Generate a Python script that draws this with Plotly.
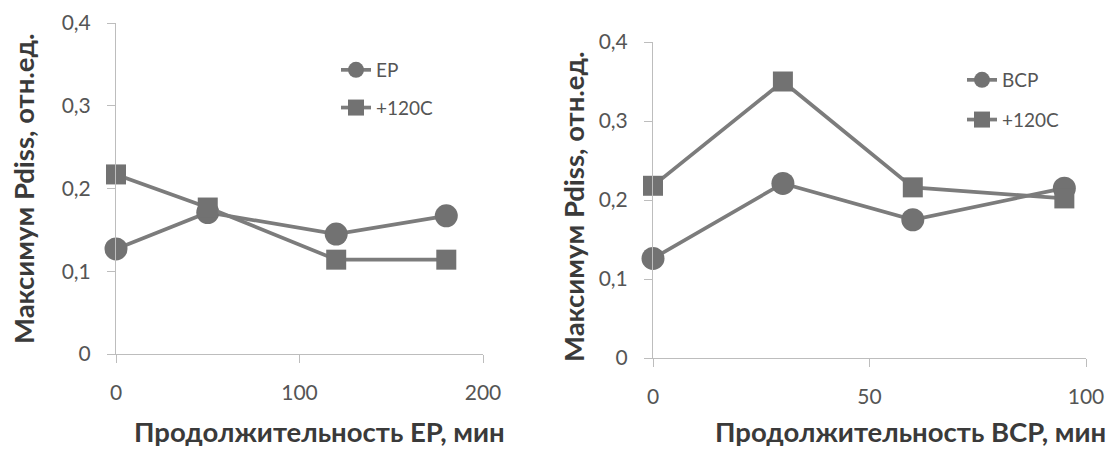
import plotly.graph_objects as go

# ---- data ----
ep_x = [0, 50, 120, 180]
ep_y = [0.127, 0.171, 0.145, 0.167]
ep120_y = [0.217, 0.177, 0.114, 0.114]

bcp_x = [0, 30, 60, 95]
bcp_y = [0.126, 0.221, 0.175, 0.215]
bcp120_y = [0.218, 0.350, 0.216, 0.202]

y_tickvals = [0, 0.1, 0.2, 0.3, 0.4]
y_ticktext = ["0", "0,1", "0,2", "0,3", "0,4"]
left_xticks = [0, 100, 200]
right_xticks = [0, 50, 100]

name_ep = "EP"
name_bcp = "BCP"
name_120 = "+120C"

x_title_left = "Продолжительность EP, мин"
x_title_right = "Продолжительность BCP, мин"
y_title = "Максимум Pdiss, отн.ед."

FONT = "Lato, Open Sans, sans-serif"
LINE_C = "#7c7c7c"
MARK_C = "#727272"
AX_C = "#bdbdbd"
TXT_C = "#555555"
TITLE_C = "#3a3a3a"
W, H = 1114, 449

fig = go.Figure()

def add(x, y, name, symbol, size, xa, ya, legend, group):
    fig.add_trace(go.Scatter(
        x=x, y=y, name=name, mode="lines+markers",
        line=dict(color=LINE_C, width=3.7),
        marker=dict(symbol=symbol, size=size, color=MARK_C),
        xaxis=xa, yaxis=ya, legend=legend, legendgroup=group,
        cliponaxis=False,
    ))

add(ep_x, ep_y, name_ep, "circle", 23, "x", "y", "legend", "a")
add(ep_x, ep120_y, name_120, "square", 20, "x", "y", "legend", "b")
add(bcp_x, bcp_y, name_bcp, "circle", 23, "x2", "y2", "legend2", "c")
add(bcp_x, bcp120_y, name_120, "square", 20, "x2", "y2", "legend2", "d")

axis_common = dict(
    showline=True, linecolor=AX_C, linewidth=1,
    ticks="outside", ticklen=8, tickcolor=AX_C, tickwidth=1,
    showgrid=False, zeroline=False, automargin=False,
    tickfont=dict(family=FONT, size=21, color=TXT_C),
)

def px_x(p):
    return p / W

def px_y(p):
    return 1 - p / H

fig.update_layout(
    width=W, height=H,
    margin=dict(l=0, r=0, t=0, b=0, autoexpand=False),
    paper_bgcolor="white", plot_bgcolor="white",
    showlegend=True,
    xaxis=dict(domain=[px_x(116), px_x(483)], range=[0, 200],
               tickvals=left_xticks, ticklabelstandoff=12, anchor="y", **axis_common),
    yaxis=dict(domain=[px_y(354), px_y(23)], range=[0, 0.4],
               tickvals=y_tickvals, ticktext=y_ticktext, ticklabelstandoff=12,
               anchor="x", **axis_common),
    xaxis2=dict(domain=[px_x(653), px_x(1086)], range=[0, 100],
                tickvals=right_xticks, ticklabelstandoff=12, anchor="y2", **axis_common),
    yaxis2=dict(domain=[px_y(358), px_y(42)], range=[0, 0.4],
                tickvals=y_tickvals, ticktext=y_ticktext, ticklabelstandoff=12,
                anchor="x2", **axis_common),
    legend=dict(x=px_x(336), y=px_y(51), xanchor="left", yanchor="top",
                font=dict(family=FONT, size=19, color=TXT_C),
                bgcolor="rgba(0,0,0,0)", traceorder="grouped", tracegroupgap=10),
    legend2=dict(x=px_x(962), y=px_y(61), xanchor="left", yanchor="top",
                 font=dict(family=FONT, size=19, color=TXT_C),
                 bgcolor="rgba(0,0,0,0)", traceorder="grouped", tracegroupgap=12),
)

ann_font = dict(family=FONT, size=27.5, color=TITLE_C, weight="bold")
fig.add_annotation(text=x_title_left, x=px_x(319), y=px_y(431), xref="paper", yref="paper",
                   showarrow=False, font=ann_font, xanchor="center", yanchor="middle")
fig.add_annotation(text=x_title_right, x=px_x(910), y=px_y(431), xref="paper", yref="paper",
                   showarrow=False, font=ann_font, xanchor="center", yanchor="middle")
fig.add_annotation(text=y_title, x=px_x(23), y=px_y(189), xref="paper", yref="paper",
                   showarrow=False, font=ann_font, textangle=-90, xanchor="center", yanchor="middle")
fig.add_annotation(text=y_title, x=px_x(573), y=px_y(207), xref="paper", yref="paper",
                   showarrow=False, font=ann_font, textangle=-90, xanchor="center", yanchor="middle")

fig.write_html(
    "out.html",
    config={"displayModeBar": False},
    post_script="document.body.style.margin='0';document.body.style.overflow='hidden';",
)
